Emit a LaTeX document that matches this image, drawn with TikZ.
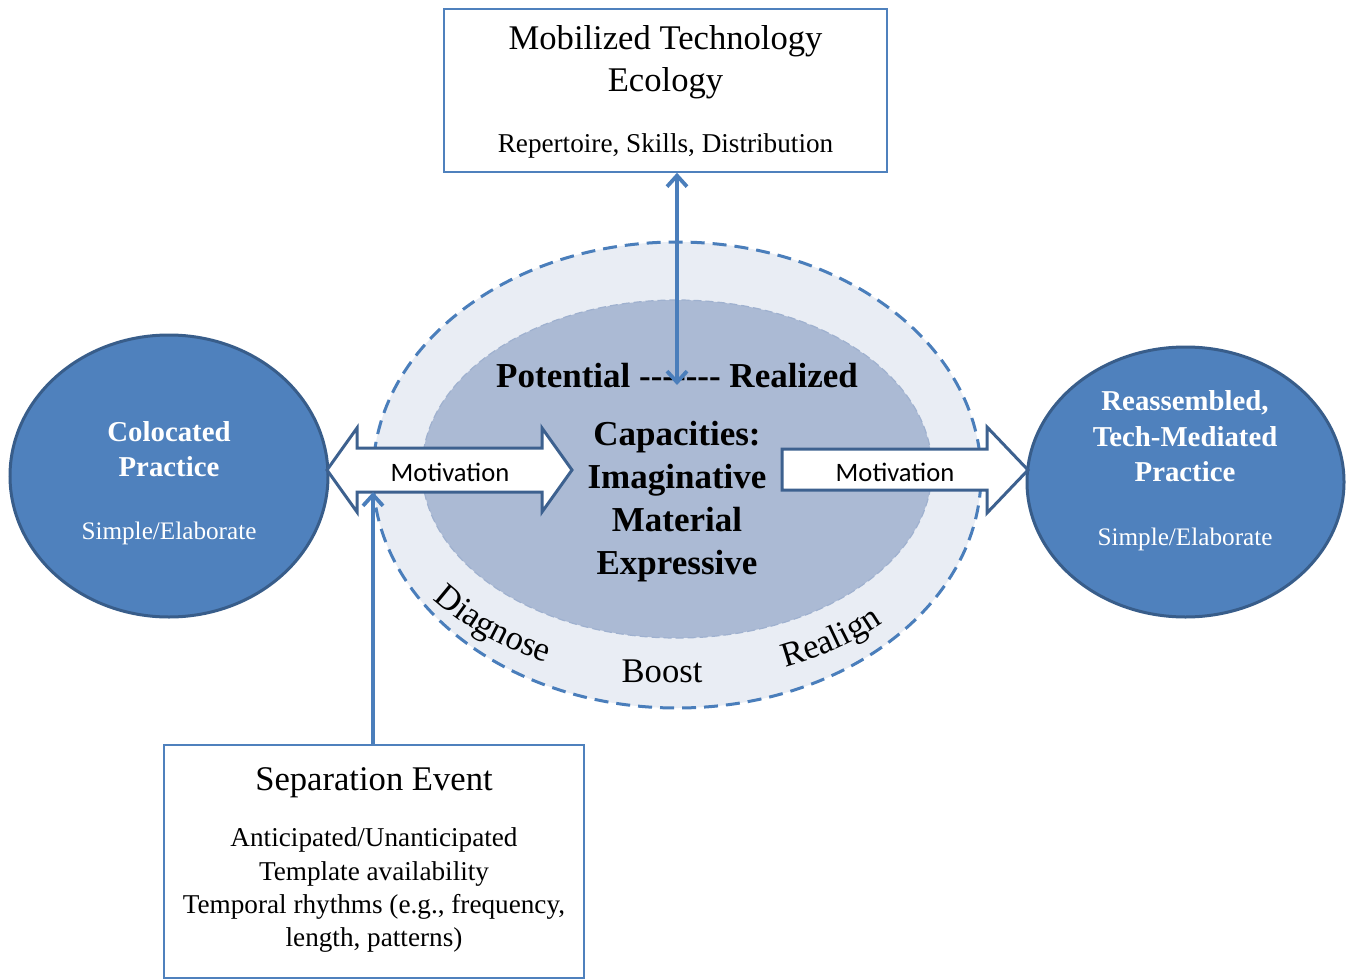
\documentclass[tikz,border=0pt]{standalone}
\usepackage{fontspec}
\setmainfont{Liberation Serif}
\newfontfamily\calibfont{Carlito}
\usetikzlibrary{shapes.geometric,arrows.meta,decorations.text}

\definecolor{practicefill}{HTML}{4F81BD}
\definecolor{practiceline}{HTML}{385D8A}
\definecolor{ringfill}{HTML}{E9EDF4}
\definecolor{ringline}{HTML}{4A7EBB}
\definecolor{corefill}{HTML}{ABBAD4}
\definecolor{coreline}{HTML}{9FB1CF}
\definecolor{boxline}{HTML}{4F81BD}
\definecolor{motline}{HTML}{3D618F}
\definecolor{linkline}{HTML}{4A7EBB}

\newcommand\arcfont{\fontsize{17.3pt}{20pt}\selectfont}

\begin{document}
\begin{tikzpicture}[x=0.5pt,y=-0.5pt,
  practice/.style={ellipse, fill=practicefill, draw=practiceline, line width=1.5pt, inner sep=0pt},
  infobox/.style={draw=boxline, line width=0.8pt, fill=white, inner sep=0pt},
  motarrow/.style={draw=motline, line width=1.5pt, fill=white, line join=miter},
  connline/.style={draw=linkline, line width=1.9pt},
  barb/.tip={Straight Barb[length=5.5pt,width=10pt,line width=1.9pt]},
  bigserif/.style={anchor=base, font=\fontsize{17.3pt}{20.5pt}\selectfont},
  smallserif/.style={anchor=base, font=\fontsize{13.6pt}{16.5pt}\selectfont},
  corebold/.style={anchor=base, font=\fontsize{17.5pt}{21.5pt}\selectfont\bfseries},
  practitle/.style={anchor=base, text=white, font=\fontsize{14.4pt}{17.5pt}\selectfont\bfseries},
  pracsub/.style={anchor=base, text=white, font=\fontsize{12.6pt}{15pt}\selectfont},
  motlabel/.style={anchor=base, font=\calibfont\fontsize{13.3pt}{16pt}\selectfont}
]
\useasboundingbox (0,0) rectangle (1348,979);
\fill[white] (0,0) rectangle (1348,979);

% central capacity rings
\node[ellipse, fill=ringfill, draw=ringline, line width=1.5pt,
      dash pattern=on 7pt off 4pt, inner sep=0pt,
      minimum width=304pt, minimum height=233pt] (outer) at (677,475) {};
\node[ellipse, fill=corefill, draw=coreline, line width=0.6pt,
      dash pattern=on 4pt off 2pt, inner sep=0pt,
      minimum width=255pt, minimum height=169pt] (inner) at (677,469) {};

% practice ellipses
\node[practice, minimum width=159pt, minimum height=141pt] (colo) at (169,476) {};
\node[practice, minimum width=158.5pt, minimum height=135pt] (reas) at (1185.5,482) {};

% information boxes
\node[infobox, minimum width=221.5pt, minimum height=81.5pt] (tech) at (665.5,90.5) {};
\node[infobox, minimum width=210pt, minimum height=116.5pt] (sep) at (374,861.5) {};

% motivation arrows
\draw[motarrow] (327,470) -- (357,428) -- (357,448) -- (542,448) -- (542,428)
  -- (572,470) -- (542,512) -- (542,492) -- (357,492) -- (357,512) -- cycle;
\draw[motarrow] (782,449) -- (987,449) -- (987,427) -- (1028,470)
  -- (987,513) -- (987,490) -- (782,490) -- cycle;
\node[motlabel] (motL) at (450,481) {Motivation};
\node[motlabel] (motR) at (895,481) {Motivation};
\coordinate (shaftbase) at (373,492);

% capacities
\node[corebold] (potential) at (677,387)
  {Potential -\kern0pt-\kern0pt-\kern0pt-\kern0pt-\kern0pt-\kern0pt- Realized};
\coordinate (potdash) at (677,385);
\node[corebold] (cap1) at (677,445) {Capacities:};
\node[corebold] (cap2) at (677,488) {Imaginative};
\node[corebold] (cap3) at (677,531) {Material};
\node[corebold] (cap4) at (677,574) {Expressive};

% ring activities
\path[decorate, decoration={text along path, text align=center,
      text={|\arcfont|Diagnose}}]
  (outer.center) ++(150:304 and 208) arc[start angle=150, end angle=110, x radius=304, y radius=208];
\node[bigserif] (boost) at (662,682) {Boost};
\path[decorate, decoration={text along path, text align=center,
      text={|\arcfont|Realign}}]
  (outer.center) ++(75:294 and 207) arc[start angle=75, end angle=38, x radius=294, y radius=207];

% practice labels
\node[practitle] (colo1) at (169,441) {Colocated};
\node[practitle] (colo2) at (169,476) {Practice};
\node[pracsub] (colo3) at (169,539) {Simple/Elaborate};
\node[practitle] (reas1) at (1185,410) {Reassembled,};
\node[practitle] (reas2) at (1185,446) {Tech-Mediated};
\node[practitle] (reas3) at (1185,481) {Practice};
\node[pracsub] (reas4) at (1185,545) {Simple/Elaborate};

% technology ecology box text
\node[bigserif] (tech1) at (665.5,50) {Mobilized Technology};
\node[bigserif] (tech2) at (665.5,91) {Ecology};
\node[smallserif] (tech3) at (665.5,152) {Repertoire, Skills, Distribution};

% separation event box text
\node[bigserif] (sep1) at (374,790) {Separation Event};
\node[smallserif] (sep2) at (374,846) {Anticipated/Unanticipated};
\node[smallserif] (sep3) at (374,880) {Template availability};
\node[smallserif] (sep4) at (374,913) {Temporal rhythms (e.g., frequency,};
\node[smallserif] (sep5) at (374,946) {length, patterns)};

% connectors
\draw[connline, barb-barb] (potdash |- tech.south) -- (potdash);
\draw[connline, -barb] (shaftbase |- sep.north) -- (shaftbase);
\end{tikzpicture}
\end{document}
